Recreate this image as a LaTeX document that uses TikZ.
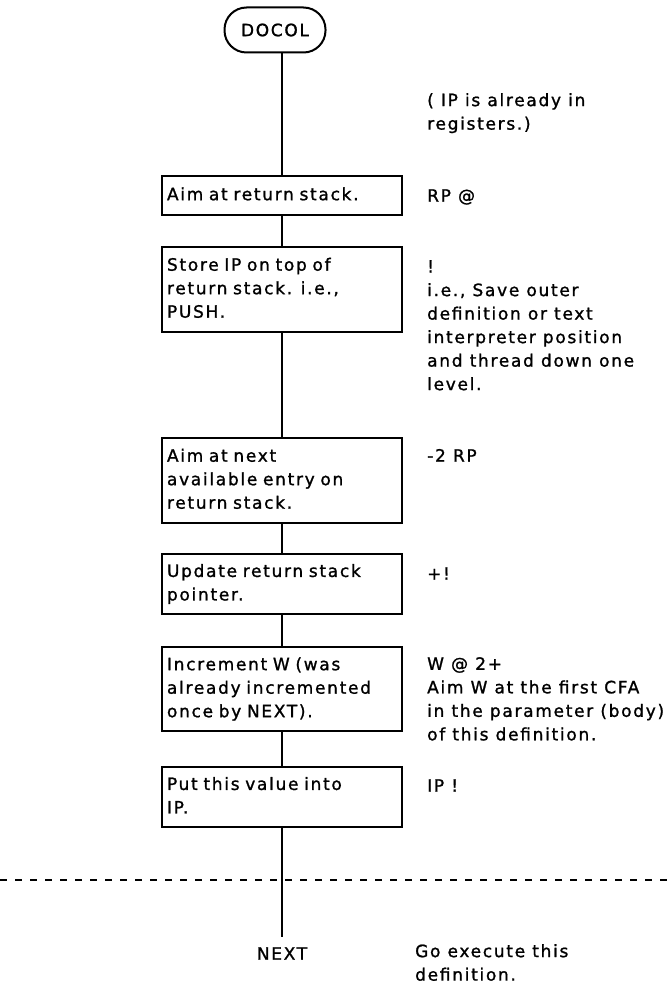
\documentclass[tikz,border=0pt]{standalone}
\usepackage{fontspec}
\setmainfont{DejaVu Sans}[LetterSpace=10,FakeBold=1.2]
\usetikzlibrary{calc}
\newcommand\diagfont{\fontsize{17}{23.5}\selectfont}
\begin{document}
\begin{tikzpicture}[x=1pt,y=-1pt,
  stepbox/.style={draw, line width=2pt, anchor=north west, text width=230pt,
    inner xsep=5pt, inner ysep=0pt, align=left, font=\diagfont,
    execute at begin node=\strut, execute at end node=\strut},
  note/.style={anchor=north west, inner sep=0pt, align=left, font=\diagfont,
    execute at begin node=\strut},
  term/.style={draw, line width=2pt, rounded corners=22pt, minimum width=101pt,
    minimum height=45pt, inner sep=0pt, font=\diagfont},
  trunk/.style={line width=2.4pt},
  sep/.style={line width=1.6pt, dash pattern=on 7pt off 8pt}]
\useasboundingbox (0,0) rectangle (667,984);

\node[term] (docol) at (275,30) {DOCOL};

\node[stepbox, minimum height=39pt] (aim) at (161,175) {Aim at return stack.};
\node[stepbox, minimum height=85pt] (store) at (161,246) {Store IP on top of\\return stack. i.e.,\\PUSH.};
\node[stepbox, minimum height=85pt] (next) at (161,437) {Aim at next\\available entry on\\return stack.};
\node[stepbox, minimum height=60pt] (upd) at (161,553) {Update return stack\\pointer.};
\node[stepbox, minimum height=84pt] (inc) at (161,646) {Increment W (was\\already incremented\\once by NEXT).};
\node[stepbox, minimum height=60pt] (put) at (161,766) {Put this value into\\IP.};

\path (put.south) ++(0,115) node[inner sep=0pt, font=\diagfont, anchor=north] (exit) {\strut NEXT};

\draw[trunk] (docol.south -| aim.north) -- (aim.north);
\draw[trunk] (aim.south) -- (store.north);
\draw[trunk] (store.south) -- (next.north);
\draw[trunk] (next.south) -- (upd.north);
\draw[trunk] (upd.south) -- (inc.north);
\draw[trunk] (inc.south) -- (put.north);
\draw[trunk] (put.south) -- ([yshift=6pt]exit.north);

\coordinate (dl) at (0,880);
\coordinate (dr) at (667,880);
\draw[sep] (dl) -- (dr);

\node[note] (n0) at (427,93) {( IP is already in\\registers.)};
\node[note] (n1) at (427,185) {RP @};
\node[note] (n2) at (427,260) {!\\i.e., Save outer\\definition or text\\interpreter position\\and thread down one\\level.};
\node[note] (n3) at (427,445) {-2 RP};
\node[note] (n4) at (427,563) {+!};
\node[note] (n5) at (427,657) {W @ 2+\\Aim W at the first CFA\\in the parameter (body)\\of this definition.};
\node[note] (n6) at (427,775) {IP !};
\node[note] (n7) at (415,944) {Go execute this\\definition.};
\end{tikzpicture}
\end{document}
